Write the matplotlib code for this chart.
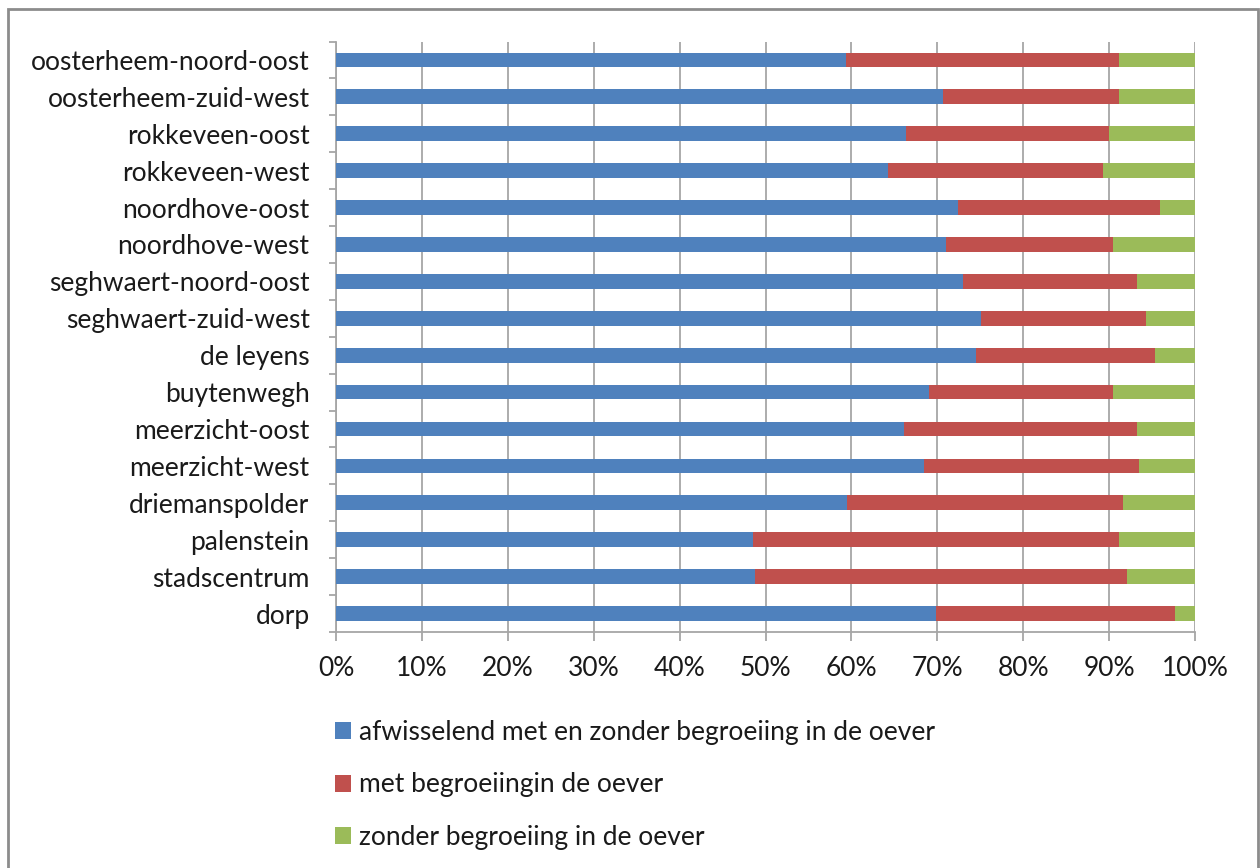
import numpy as np
import matplotlib
matplotlib.use("Agg")
import matplotlib.pyplot as plt
from matplotlib.patches import Rectangle, Patch
from matplotlib.ticker import PercentFormatter

# wijken, van boven naar beneden zoals in de grafiek
wijken = ["oosterheem-noord-oost", "oosterheem-zuid-west", "rokkeveen-oost",
          "rokkeveen-west", "noordhove-oost", "noordhove-west",
          "seghwaert-noord-oost", "seghwaert-zuid-west", "de leyens",
          "buytenwegh", "meerzicht-oost", "meerzicht-west", "driemanspolder",
          "palenstein", "stadscentrum", "dorp"]

afwisselend = [59.4, 70.7, 66.4, 64.3, 72.4, 71.0, 73.0, 75.1, 74.5,
               69.0, 66.1, 68.5, 59.5, 48.6, 48.8, 69.8]
met_begroeiing = [31.8, 20.5, 23.6, 25.0, 23.5, 19.4, 20.3, 19.2, 20.9,
                  21.4, 27.2, 25.0, 32.1, 42.5, 43.3, 27.9]
zonder_begroeiing = [8.8, 8.8, 10.0, 10.7, 4.1, 9.6, 6.7, 5.7, 4.6,
                     9.6, 6.7, 6.5, 8.4, 8.9, 7.9, 2.3]

labels = ["afwisselend met en zonder begroeiing in de oever",
          "met begroeiingin de oever",
          "zonder begroeiing in de oever"]
kleuren = ["#4F81BD", "#C0504D", "#9BBB59"]

plt.rcParams['font.family'] = ['Lato', 'DejaVu Sans']
fs = 19

fig = plt.figure(figsize=(12.6, 8.68), dpi=100)
ax = fig.add_axes([336/1260, 1-632/868, (1195-336)/1260, (632-41.5)/868])

y = np.arange(len(wijken))[::-1]
series = [afwisselend, met_begroeiing, zonder_begroeiing]
left = np.zeros(len(wijken))
for vals, kleur, lab in zip(series, kleuren, labels):
    vals = np.array(vals)
    ax.barh(y, vals, left=left, height=0.4, color=kleur, label=lab, zorder=3)
    left += vals

ax.set_xlim(0, 100)
ax.set_ylim(-0.5, len(wijken) - 0.5)
ax.set_xticks(np.arange(0, 101, 10))
ax.xaxis.set_major_formatter(PercentFormatter(decimals=0))
ax.set_yticks(y)
ax.set_yticklabels(wijken)
ax.set_yticks(np.arange(-0.5, len(wijken)), minor=True)

ax.grid(axis='x', color='#A6A6A6', linewidth=1.3, zorder=0)
for s in ['top', 'right']:
    ax.spines[s].set_visible(False)
for s in ['left', 'bottom']:
    ax.spines[s].set_color('#A6A6A6')
    ax.spines[s].set_linewidth(1.3)

ax.tick_params(axis='y', which='major', length=0, pad=19, labelsize=fs, labelcolor='#1a1a1a')
ax.tick_params(axis='y', which='minor', length=5, color='#A6A6A6', width=1.3)
ax.tick_params(axis='x', length=6.5, color='#A6A6A6', width=1.3, pad=11,
               labelsize=fs, labelcolor='#1a1a1a')

handles = [Patch(facecolor=k, label=l) for k, l in zip(kleuren, labels)]
fig.legend(handles=handles, loc='upper left', bbox_to_anchor=(335/1260, 1-720/868),
           frameon=False, fontsize=fs, handlelength=0.61, handleheight=0.61,
           handletextpad=0.3, labelspacing=1.04, borderaxespad=0, borderpad=0,
           labelcolor='#1a1a1a')

# grijze rand om de grafiek
fig.patches.append(Rectangle((8/1260, -0.05), (1258-8)/1260, 1.05 - 9/868,
                             transform=fig.transFigure, fill=False,
                             edgecolor='#8C8C8C', linewidth=2))

fig.savefig("out.png", dpi=100, facecolor='white')
